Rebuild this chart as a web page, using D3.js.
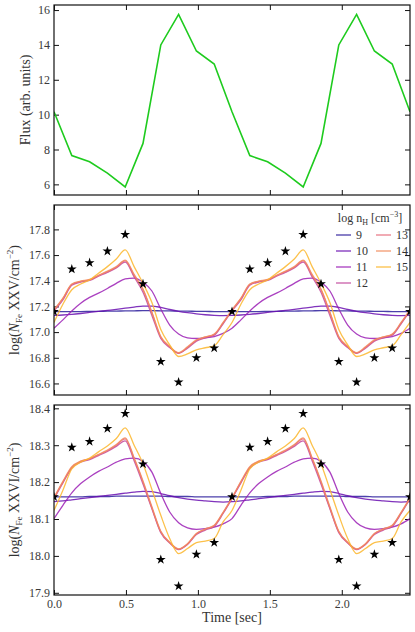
<!DOCTYPE html>
<html>
<head>
<meta charset="utf-8">
<script src="https://cdn.jsdelivr.net/npm/d3@7"></script>
<style>
  body { margin: 0; background: #fff; }
  svg text { font-family: "Liberation Serif", "DejaVu Serif", serif !important; }
</style>
</head>
<body>
<div id="chart"></div>
<script>
  // one cycle of the light curve, repeated twice on the time axis
  var period = 1.237;
  var starTimes = [0, 0.1237, 0.2474, 0.3711, 0.4948, 0.6185, 0.7422, 0.8659, 0.9896, 1.1133];
  var curveTimes = [0, 0.0619, 0.1237, 0.1856, 0.2474, 0.3093, 0.3711, 0.433, 0.4948, 0.5567,
                    0.6185, 0.6804, 0.7422, 0.8041, 0.8659, 0.9278, 0.9896, 1.0515, 1.1133, 1.1752];

  var flux = [10.17, 7.65, 7.3, 6.65, 5.85, 8.35, 14.0, 15.75, 13.65, 12.9];
  var fe25Obs = [17.16, 17.49, 17.54, 17.63, 17.76, 17.375, 16.77, 16.61, 16.80, 16.875];
  var fe26Obs = [18.16, 18.294, 18.31, 18.345, 18.386, 18.249, 17.99, 17.918, 18.004, 18.036];

  var densities = ["9", "10", "11", "12", "13", "14", "15"];

  var fe25Model = {
    "9":  [17.159, 17.159, 17.16, 17.16, 17.161, 17.162, 17.163, 17.164, 17.165, 17.166, 17.167, 17.167, 17.166, 17.165, 17.164, 17.163, 17.162, 17.161, 17.16, 17.159],
    "10": [17.13, 17.133, 17.138, 17.145, 17.153, 17.161, 17.169, 17.177, 17.186, 17.195, 17.203, 17.203, 17.192, 17.176, 17.162, 17.151, 17.142, 17.135, 17.131, 17.129],
    "11": [17.03, 17.095, 17.165, 17.225, 17.27, 17.303, 17.34, 17.38, 17.414, 17.42, 17.388, 17.32, 17.18, 17.055, 16.985, 16.955, 16.95, 16.955, 16.965, 16.99],
    "12": [17.165, 17.25, 17.365, 17.39, 17.402, 17.435, 17.465, 17.5, 17.545, 17.43, 17.31, 17.13, 16.95, 16.88, 16.835, 16.875, 16.93, 16.955, 16.975, 17.065],
    "13": [17.17, 17.26, 17.37, 17.395, 17.406, 17.44, 17.47, 17.505, 17.555, 17.44, 17.33, 17.15, 16.96, 16.885, 16.835, 16.88, 16.935, 16.96, 16.98, 17.07],
    "14": [17.175, 17.265, 17.375, 17.397, 17.41, 17.443, 17.475, 17.51, 17.56, 17.45, 17.335, 17.155, 16.965, 16.89, 16.84, 16.885, 16.94, 16.962, 16.985, 17.075],
    "15": [17.075, 17.217, 17.33, 17.375, 17.406, 17.458, 17.51, 17.57, 17.64, 17.51, 17.38, 17.23, 17.02, 16.9, 16.81, 16.83, 16.862, 16.878, 16.893, 16.98]
  };

  var fe26Model = {
    "9":  [18.16, 18.16, 18.16, 18.16, 18.161, 18.161, 18.161, 18.162, 18.162, 18.162, 18.162, 18.162, 18.162, 18.161, 18.161, 18.161, 18.16, 18.16, 18.16, 18.16],
    "10": [18.147, 18.149, 18.152, 18.155, 18.158, 18.161, 18.164, 18.167, 18.17, 18.173, 18.175, 18.174, 18.169, 18.163, 18.158, 18.154, 18.151, 18.149, 18.147, 18.146],
    "11": [18.101, 18.137, 18.171, 18.196, 18.214, 18.229, 18.241, 18.254, 18.263, 18.265, 18.256, 18.227, 18.169, 18.119, 18.09, 18.076, 18.072, 18.074, 18.078, 18.087],
    "12": [18.155, 18.198, 18.238, 18.254, 18.261, 18.272, 18.283, 18.297, 18.312, 18.258, 18.195, 18.128, 18.063, 18.035, 18.017, 18.031, 18.058, 18.07, 18.08, 18.115],
    "13": [18.157, 18.2, 18.24, 18.256, 18.263, 18.274, 18.285, 18.3, 18.317, 18.263, 18.2, 18.13, 18.065, 18.036, 18.018, 18.032, 18.06, 18.072, 18.082, 18.117],
    "14": [18.158, 18.202, 18.242, 18.257, 18.264, 18.275, 18.287, 18.302, 18.32, 18.266, 18.203, 18.133, 18.067, 18.037, 18.019, 18.033, 18.061, 18.073, 18.083, 18.118],
    "15": [18.123, 18.178, 18.236, 18.254, 18.265, 18.282, 18.298, 18.318, 18.347, 18.3, 18.25, 18.18, 18.11, 18.047, 18.006, 18.02, 18.036, 18.04, 18.047, 18.092]
  };

  var colors = {
    "9": "#2d1e9c", "10": "#6a0fb0", "11": "#9b1fb5", "12": "#c2479b",
    "13": "#e5697a", "14": "#f28a5a", "15": "#fbb62c"
  };

  var xTicks = [0, 0.5, 1.0, 1.5, 2.0];
  var fluxTicks = [6, 8, 10, 12, 14, 16];
  var fe25Ticks = [16.6, 16.8, 17.0, 17.2, 17.4, 17.6, 17.8];
  var fe26Ticks = [17.9, 18.0, 18.1, 18.2, 18.3, 18.4];

  // repeat one cycle over two periods (plus the closing point)
  function twoCycles(times, values) {
    var out = [];
    for (var c = 0; c < 2; c++) {
      times.forEach(function(t, i) { out.push([t + c * period, values[i]]); });
    }
    out.push([2 * period, values[0]]);
    return out;
  }

  var width = 415, height = 632;
  var left = 54, right = 410;
  var serif = "'Liberation Serif', 'DejaVu Serif', serif";

  var svg = d3.select("#chart").append("svg")
      .attr("width", width)
      .attr("height", height)
      .attr("font-family", serif);

  var x = d3.scaleLinear()
      .domain([0, 2 * period])
      .range([left, right]);

  function panel(top, bottom, yDomain, yTicks, yFormat, showX) {
    var y = d3.scaleLinear().domain(yDomain).range([bottom, top]);
    var g = svg.append("g");

    var clipId = "clip" + top;
    svg.append("clipPath").attr("id", clipId)
      .append("rect")
        .attr("x", left).attr("y", top)
        .attr("width", right - left).attr("height", bottom - top);

    var axes = [
      [d3.axisLeft(y).tickValues(yTicks).tickFormat(yFormat), "translate(" + left + ",0)"],
      [d3.axisRight(y).tickValues(yTicks).tickFormat(""), "translate(" + right + ",0)"],
      [d3.axisTop(x).tickValues(xTicks).tickFormat(""), "translate(0," + top + ")"],
      [d3.axisBottom(x).tickValues(xTicks).tickFormat(showX ? d3.format(".1f") : ""), "translate(0," + bottom + ")"]
    ];
    axes.forEach(function(a) {
      var ax = g.append("g")
          .attr("transform", a[1])
          .call(a[0].tickSizeInner(-5).tickSizeOuter(0).tickPadding(4))
          .attr("font-family", serif);
      ax.select(".domain").remove();
      ax.selectAll(".tick line").attr("stroke", "#111").attr("stroke-width", 1);
      ax.selectAll(".tick text")
          .attr("font-size", 12)
          .attr("fill", "#3a3a3a");
    });

    var plot = svg.append("g").attr("clip-path", "url(#" + clipId + ")");

    svg.append("rect")
        .attr("x", left).attr("y", top)
        .attr("width", right - left).attr("height", bottom - top)
        .attr("fill", "none")
        .attr("stroke", "#111")
        .attr("stroke-width", 1.2);

    return { y: y, plot: plot };
  }

  // --- flux panel
  var p1 = panel(5, 195, [5.39, 16.29], fluxTicks, d3.format("d"), false);
  p1.plot.append("path")
      .datum(twoCycles(starTimes, flux))
      .attr("fill", "none")
      .attr("stroke", "#1ecb1e")
      .attr("stroke-width", 1.6)
      .attr("d", d3.line().x(function(d) { return x(d[0]); }).y(function(d) { return p1.y(d[1]); }));

  function modelPanel(p, model, obs) {
    var line = d3.line()
        .curve(d3.curveMonotoneX)
        .x(function(d) { return x(d[0]); })
        .y(function(d) { return p.y(d[1]); });

    densities.forEach(function(n) {
      p.plot.append("path")
          .datum(twoCycles(curveTimes, model[n]))
          .attr("fill", "none")
          .attr("stroke", colors[n])
          .attr("stroke-opacity", 0.85)
          .attr("stroke-width", 1.3)
          .attr("d", line);
    });

    p.plot.selectAll("path.star")
      .data(twoCycles(starTimes, obs))
      .enter().append("path")
        .attr("class", "star")
        .attr("transform", function(d) { return "translate(" + x(d[0]) + "," + p.y(d[1]) + ")"; })
        .attr("d", d3.symbol().type(d3.symbolStar).size(30))
        .attr("fill", "#000");
  }

  // --- Fe XXV panel
  var p2 = panel(205, 395, [16.51, 17.99], fe25Ticks, d3.format(".1f"), false);
  modelPanel(p2, fe25Model, fe25Obs);

  // --- Fe XXVI panel
  var p3 = panel(405, 595, [17.894, 18.409], fe26Ticks, d3.format(".1f"), true);
  modelPanel(p3, fe26Model, fe26Obs);

  // axis labels
  svg.append("text")
      .attr("transform", "translate(30,100) rotate(-90)")
      .attr("text-anchor", "middle")
      .attr("font-size", 14)
      .attr("fill", "#333")
      .text("Flux (arb. units)");

  function ionLabel(cx, cy, ion) {
    var t = svg.append("text")
        .attr("transform", "translate(" + cx + "," + cy + ") rotate(-90)")
        .attr("text-anchor", "middle")
        .attr("font-size", 14)
        .attr("fill", "#333");
    t.append("tspan").text("log(");
    t.append("tspan").attr("font-style", "italic").text("N");
    t.append("tspan").attr("font-size", 9).attr("dy", 3).text("Fe");
    t.append("tspan").attr("dy", -3).text(" " + ion + "/cm");
    t.append("tspan").attr("font-size", 9).attr("dy", -6).text("\u22122");
    t.append("tspan").attr("dy", 6).text(")");
  }
  ionLabel(19, 300, "XXV");
  ionLabel(19, 500, "XXVI");

  svg.append("text")
      .attr("x", (left + right) / 2)
      .attr("y", 622)
      .attr("text-anchor", "middle")
      .attr("font-size", 14)
      .attr("fill", "#333")
      .text("Time [sec]");

  // legend
  var legend = svg.append("g").attr("class", "legend");
  var title = legend.append("text")
      .attr("x", 370).attr("y", 222)
      .attr("text-anchor", "middle")
      .attr("font-size", 12)
      .attr("fill", "#333");
  title.append("tspan").text("log n");
  title.append("tspan").attr("font-size", 8).attr("dy", 3).text("H");
  title.append("tspan").attr("dy", -3).text(" [cm");
  title.append("tspan").attr("font-size", 8).attr("dy", -5).text("\u22123");
  title.append("tspan").attr("dy", 5).text("]");

  densities.forEach(function(n, i) {
    var col = i < 4 ? 0 : 1;
    var row = i < 4 ? i : i - 4;
    var lx = col ? 376 : 336;
    var ly = 235 + row * 16;
    legend.append("line")
        .attr("x1", lx).attr("x2", lx + 15)
        .attr("y1", ly).attr("y2", ly)
        .attr("stroke", colors[n])
        .attr("stroke-opacity", 0.75)
        .attr("stroke-width", 1.5);
    legend.append("text")
        .attr("x", lx + 20).attr("y", ly + 4)
        .attr("font-size", 12)
        .attr("fill", "#333")
        .text(n);
  });
</script>
</body>
</html>
